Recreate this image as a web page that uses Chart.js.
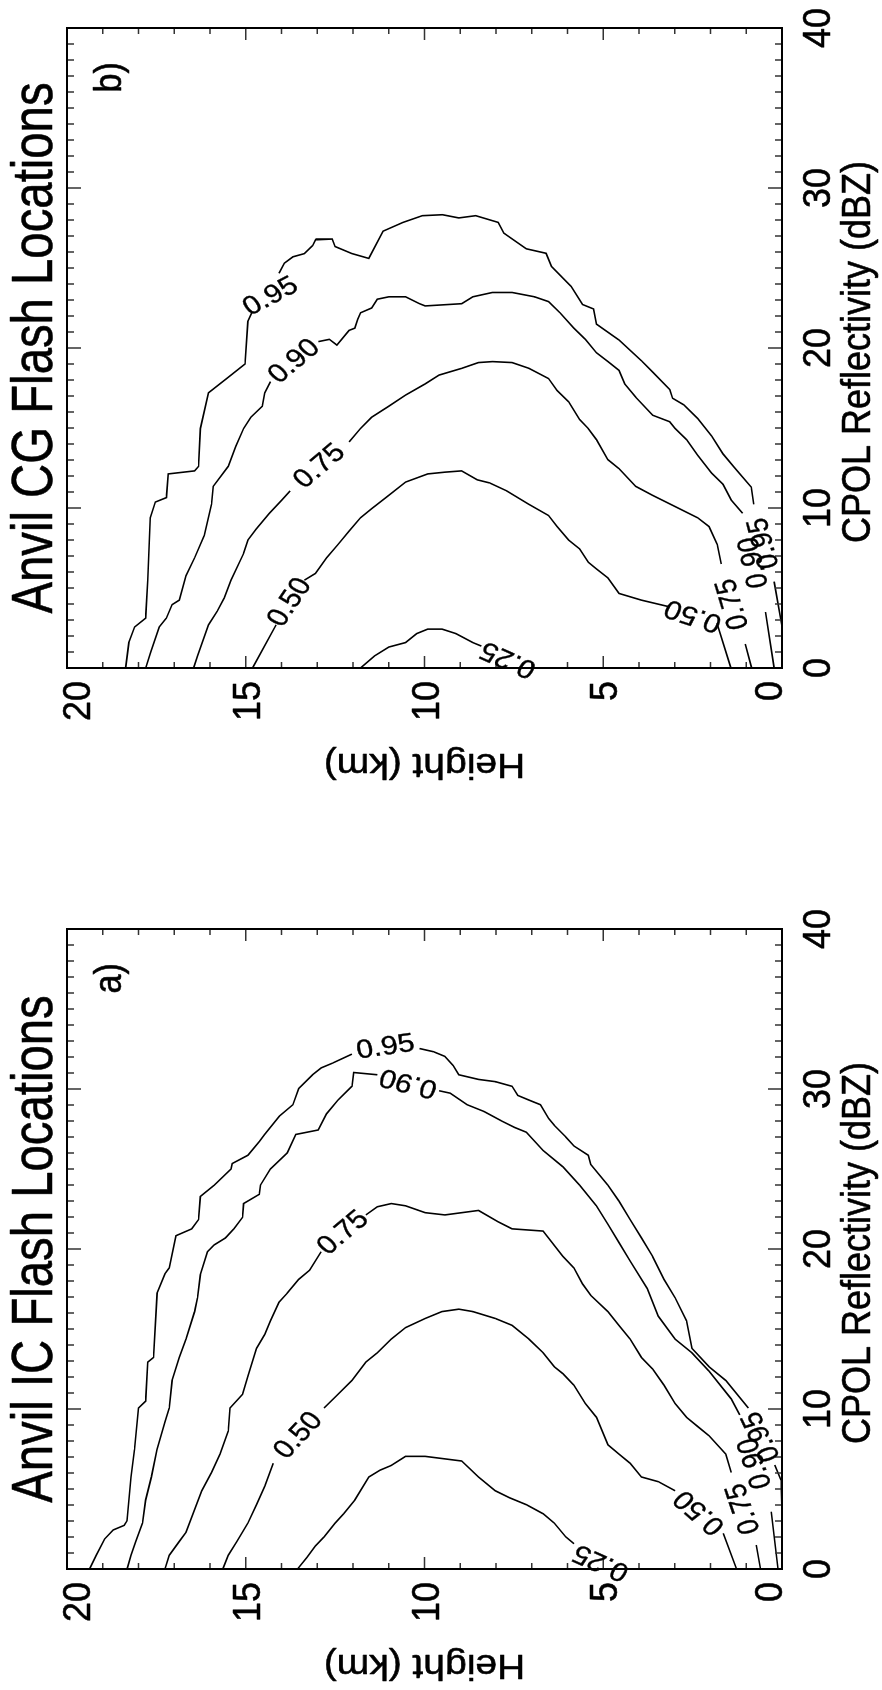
<!DOCTYPE html>
<html lang="en">
  <head>
    <meta charset="UTF-8" />
    <title>Anvil Flash Locations</title>
    <script src="https://cdn.jsdelivr.net/npm/chart.js"></script>
    <style>
      html,
      body {
        margin: 0;
        padding: 0;
        background: #fff;
      }
      body {
        width: 882px;
        height: 1690px;
        overflow: hidden;
        position: relative;
      }
      /* the figure is a landscape page turned a quarter turn */
      #page {
        position: absolute;
        left: 0;
        top: 0;
        width: 1690px;
        height: 882px;
        transform-origin: 0 0;
        transform: translateY(1690px) rotate(-90deg);
      }
      .panel {
        position: absolute;
        top: 0;
        width: 845px;
        height: 882px;
      }
    </style>
  </head>
  <body>
    <div id="page">
      <div class="panel" style="left: 0"><canvas id="panelA"></canvas></div>
      <div class="panel" style="left: 845px"><canvas id="panelB"></canvas></div>
    </div>

    <script>
      // axes
      const reflTicks = [0, 10, 20, 30, 40];
      const heightTicks = [0, 5, 10, 15, 20];
      const contourLevels = [0.25, 0.5, 0.75, 0.9, 0.95];

      // a) anvil IC flashes : reflectivity (dBZ) / height (km), null = label gap
      const icRefl25 = [0, 0.72, 1.44, 2.01, 2.87, 3.45, 4.31, 5.75, 6.18, 6.47, 7.04, 7.04, 6.75, 5.75, 4.89, 4.45, 4.02, 3.45, 2.87, 2.01, 1.58];
      const icHgt25 = [13.55, 13.29, 13.05, 12.81, 12.5, 12.26, 11.95, 11.56, 11.24, 10.93, 10.53, 9.98, 8.96, 8.49, 8.02, 7.62, 7.15, 6.68, 6.37, 6.05, 5.82];

      const icRefl50 = [0, 0.86, 1.72, 2.87, 4.02, 5.17, 6.61, null, 10.06, 10.92, 11.78, 12.93, 13.51, 14.37, 15.09, 15.66, 16.09, 16.24, 16.09, 15.66, 15.23, 14.37, 13.51, 12.64, 12.21, 11.49, 10.34, 9.48, 7.76, 7.18, 6.61, 5.75, 5.46, 4.89, null, 2.23, 0];
      const icHgt50 = [15.64, 15.49, 15.25, 14.94, 14.7, 14.47, 14.23, null, 12.81, 12.42, 12.03, 11.64, 11.32, 10.93, 10.53, 9.98, 9.51, 9.04, 8.65, 8.02, 7.55, 7.08, 6.68, 6.37, 6.13, 5.82, 5.5, 5.19, 4.87, 4.56, 4.25, 3.93, 3.46, 2.99, null, 1.64, 1.27];

      const icRefl75 = [0, 0.86, 1.72, 2.3, 3.74, 4.89, 6.03, 7.18, 8.62, 10.06, 10.92, 12.07, 13.79, 14.66, 15.52, 16.67, 17.24, 18.1, 18.68, 19.83, null, 22.13, 22.64, 22.84, 22.7, 22.27, 22.13, 22.41, 21.7, 21.26, 21.12, 19.54, 18.82, 17.82, 17.1, 16.09, 15.23, 14.37, 13.22, 12.5, 11.49, 10.34, 9.48, 8.91, 8.33, 7.18, 6.03, null, 1.5, 0];
      const icHgt75 = [17.26, 17.14, 16.86, 16.67, 16.43, 16.23, 15.96, 15.72, 15.49, 15.44, 15.09, 14.94, 14.7, 14.47, 14.31, 14.07, 13.84, 13.52, 13.21, 12.89, null, 11.64, 11.32, 10.93, 10.53, 9.98, 9.43, 8.49, 7.94, 7.55, 6.68, 6.13, 5.82, 5.58, 5.35, 4.87, 4.56, 4.25, 3.93, 3.62, 3.3, 2.99, 2.67, 2.36, 2.04, 1.57, 1.42, null, 0.72, 0.6];

      const icRefl90 = [0, 0.86, 1.72, 2.87, 4.31, 5.75, 7.47, 9.2, 10.06, 11.78, 13.22, 14.37, 16.09, 16.95, 18.39, 19.83, 20.26, 20.69, 21.26, 21.98, 22.84, 23.42, 23.99, 25.0, 26.01, 27.16, 27.44, 28.45, 29.31, 30.17, 31.03, 30.89, null, 29.89, 29.74, 29.02, 28.59, 28.02, 27.59, 27.3, 26.15, 25.14, 23.99, 22.7, 21.55, 20.4, 19.25, 17.53, 15.8, 14.37, 13.51, 12.36, 10.63, 9.63, null, 3.58, 0];
      const icHgt90 = [18.32, 18.21, 18.08, 17.89, 17.8, 17.64, 17.48, 17.26, 17.14, 17.06, 16.86, 16.67, 16.43, 16.35, 16.27, 16.07, 15.88, 15.57, 15.33, 15.09, 15.06, 14.62, 14.59, 14.31, 13.84, 13.6, 12.97, 12.74, 12.42, 12.03, 11.98, 11.32, null, 9.59, 9.28, 8.81, 8.33, 7.86, 7.47, 7.15, 6.68, 6.13, 5.66, 5.19, 4.87, 4.56, 4.25, 3.77, 3.46, 2.99, 2.52, 2.04, 1.42, 1.18, null, 0.3, 0.11];

      const icRefl95 = [0, 0.86, 1.87, 2.44, 2.73, 3.02, 5.75, 7.47, 10.06, 10.49, 12.93, 13.22, 17.24, 18.45, 18.82, 20.83, 21.26, 21.84, 23.28, 23.99, 25.0, 25.34, 25.86, 26.72, 27.16, 28.3, 29.02, 30.03, 30.89, 31.32, 31.61, 32.18, null, 32.53, 32.33, 32.04, 31.47, 30.89, 30.6, 30.46, 30.17, 29.6, 29.31, 29.02, 28.16, 27.73, 27.01, 26.44, 25.86, 25.29, 23.99, 22.99, 21.84, 20.69, 19.54, 18.1, 16.95, 15.52, 13.79, 12.64, 11.78, 10.06, null, 6.5, 5.56, 3.5];
      const icHgt95 = [19.37, 19.18, 18.95, 18.71, 18.4, 18.32, 18.21, 18.11, 18.0, 17.8, 17.74, 17.58, 17.48, 17.26, 17.14, 16.95, 16.51, 16.32, 16.27, 15.88, 15.41, 15.38, 14.94, 14.62, 14.47, 14.06, 13.68, 13.52, 13.13, 12.89, 12.58, 12.03, null, 10.14, 9.75, 9.43, 9.2, 9.04, 8.49, 8.02, 7.55, 7.39, 7.08, 6.76, 6.53, 6.37, 6.05, 5.82, 5.42, 5.35, 4.87, 4.56, 4.25, 3.93, 3.62, 3.3, 2.99, 2.67, 2.52, 2.04, 1.57, 0.94, null, 0.2, 0.03, 0];

      // b) anvil CG flashes
      const cgRefl25 = [0, 0.75, 1.31, 1.59, 2.15, 2.43, 2.43, 2.15, 1.59, 1.37];
      const cgHgt25 = [11.79, 11.4, 11.0, 10.53, 10.22, 9.91, 9.51, 9.12, 8.65, 8.41];

      const cgRefl50 = [0, 2.7, null, 5.49, 5.91, 6.89, 7.72, 8.56, 9.39, 9.95, 10.79, 11.62, 12.13, 12.24, 12.32, 11.76, 11.57, 11.07, 10.23, 9.53, 8.84, 8.0, 7.44, 6.61, 6.19, 5.63, 4.66, 4.24, 3.82, null, 2.79, 0];
      const cgHgt50 = [14.81, 14.15, null, 13.36, 13.05, 12.74, 12.42, 12.11, 11.79, 11.48, 11.0, 10.53, 9.91, 9.43, 8.96, 8.52, 8.18, 7.7, 7.08, 6.53, 6.29, 5.97, 5.66, 5.42, 5.19, 4.87, 4.56, 3.93, 3.14, null, 1.82, 1.43];

      const cgRefl75 = [0, 0.75, 2.7, 3.54, 4.38, 5.49, 7.16, 8.0, 8.7, 9.67, 10.5, 11.07, null, 14.13, 14.97, 15.67, 16.36, 17.06, 17.76, 18.31, 18.73, 19.09, 19.15, 19.09, 18.73, 18.09, 17.34, 16.64, 15.53, 14.97, 14.27, 13.02, 12.46, 11.35, 10.79, 10.09, 9.39, 8.84, 7.72, 6.5, null, 1.5, 0];
      const cgHgt75 = [16.46, 16.35, 16.04, 15.8, 15.6, 15.41, 15.06, 14.94, 14.7, 14.34, 13.99, 13.76, null, 12.11, 11.79, 11.48, 11.0, 10.53, 9.98, 9.59, 8.96, 8.49, 8.1, 7.55, 7.08, 6.53, 6.29, 5.97, 5.66, 5.42, 5.19, 4.87, 4.56, 4.09, 3.62, 2.99, 2.36, 2.04, 1.81, 1.7, null, 1.03, 0.85];

      const cgRefl90 = [0, 1.0, 2.56, 3.12, 3.96, 4.24, 5.77, 6.89, 8.28, 10.23, 11.35, 12.6, 13.85, 14.97, 15.67, 16.36, 17.2, 17.9, null, 20.4, 20.54, 20.18, 21.1, 21.24, 21.8, 22.2, 22.5, 23.05, 23.2, 23.2, 22.77, 22.63, 22.77, 23.2, 23.47, 23.47, 23.2, 22.9, 22.2, 21.24, 20.54, 19.7, 19.15, 18.6, 17.76, 16.92, 15.8, 15.39, 14.97, 14.27, 13.3, 12.18, 11.48, 10.5, 9.67, null, 3.5, 0];
      const cgHgt90 = [17.8, 17.66, 17.42, 17.22, 17.06, 16.86, 16.67, 16.43, 16.16, 15.96, 15.91, 15.49, 15.28, 15.06, 14.86, 14.54, 14.47, 14.31, null, 12.97, 12.66, 12.45, 12.11, 11.95, 11.87, 11.79, 11.48, 11.32, 11.0, 10.53, 10.14, 9.98, 8.96, 8.65, 8.1, 7.55, 6.92, 6.53, 6.21, 5.82, 5.5, 5.19, 4.87, 4.56, 4.4, 4.09, 3.62, 3.14, 2.99, 2.67, 2.36, 1.97, 1.65, 1.42, 1.1, null, 0.46, 0.22];

      const cgRefl95 = [0, 1.59, 2.56, 3.12, 5.49, 9.39, 10.37, 10.65, 12.13, 12.32, 12.6, 14.97, 17.2, 18.17, 19.0, 21.66, 22.2, null, 24.67, 25.3, 25.7, 25.9, 26.4, 26.76, 26.81, 26.34, 25.9, 25.6, 27.3, 27.85, 28.27, 28.33, 28.13, 28.27, 27.85, 27.18, 26.2, 25.92, 25.1, 23.85, 22.72, 22.44, 21.49, 20.5, 19.2, 18.5, 17.4, 16.86, 16.45, 15.6, 14.5, 13.38, 12.55, 12.13, 11.3, 10.23, null, 5.4, 2.6];
      const cgHgt95 = [18.36, 18.27, 18.11, 17.8, 17.74, 17.67, 17.53, 17.22, 17.17, 16.43, 16.32, 16.27, 16.04, 15.49, 15.02, 14.94, 14.83, null, 14.07, 13.92, 13.68, 13.36, 13.13, 13.05, 12.58, 12.5, 12.03, 11.56, 11.16, 10.6, 10.06, 9.5, 9.04, 8.57, 7.94, 7.78, 7.15, 6.6, 6.45, 5.9, 5.58, 5.27, 5.19, 4.56, 3.93, 3.62, 3.14, 3.06, 2.75, 2.36, 1.97, 1.65, 1.34, 1.18, 0.86, 0.79, null, 0.22, 0];

      // contour labels: level, reflectivity, height
      const icLabelLevel = [0.95, 0.9, 0.75, 0.5, 0.25, 0.5, 0.75, 0.9, 0.95];
      const icLabelRefl = [32.6, 30.4, 21.0, 8.33, 0.43, 3.56, 3.77, 6.6, 8.28];
      const icLabelHgt = [11.09, 10.45, 12.27, 13.52, 5.06, 2.3, 1.07, 0.74, 0.57];
      const cgLabelLevel = [0.95, 0.9, 0.75, 0.5, 0.25, 0.5, 0.75, 0.9, 0.95];
      const cgLabelRefl = [23.2, 19.15, 12.6, 4.1, 0.55, 3.3, 4.0, 6.6, 7.8];
      const cgLabelHgt = [14.3, 13.64, 12.93, 13.76, 7.65, 2.48, 1.37, 0.78, 0.5];

      // label orientation (degrees, clockwise on the landscape page)
      const icLabelAngle = [82, -76, 50, 43, -66, -49, -19, -18, -25];
      const cgLabelAngle = [62, 50, 50, 34, -66, -72, -17, -13, -15];

      const FONT = '"Liberation Sans", Arial, Helvetica, sans-serif';

      // text is a little narrower across the page than along it
      function putText(ctx, str, x, y, size, deg, align, baseline, squash) {
        const sq = squash || 0.9;
        const a = (deg * Math.PI) / 180;
        ctx.save();
        ctx.translate(x, y);
        ctx.scale(sq, 1);
        ctx.rotate(Math.atan2(sq * Math.sin(a), Math.cos(a)));
        ctx.font = size + "px " + FONT;
        ctx.fillStyle = "#000";
        ctx.strokeStyle = "#000";
        ctx.lineWidth = size > 32 ? 0.6 : 0.4;
        ctx.lineJoin = "round";
        ctx.textAlign = align;
        ctx.textBaseline = baseline;
        ctx.fillText(str, 0, 0);
        ctx.strokeText(str, 0, 0);
        ctx.restore();
      }

      const framePlugin = {
        id: "frame",
        afterDatasetsDraw(chart, args, opts) {
          const ctx = chart.ctx;
          const a = chart.chartArea;
          const xs = chart.scales.x;
          const ys = chart.scales.y;
          const cx = (a.left + a.right) / 2;
          const cy = (a.top + a.bottom) / 2;

          ctx.save();
          // minor + major ticks, inside, all four sides
          ctx.strokeStyle = "#333";
          ctx.lineWidth = 1.5;
          ctx.beginPath();
          for (let v = reflTicks[0]; v <= reflTicks[reflTicks.length - 1]; v++) {
            const px = xs.getPixelForValue(v);
            const len = reflTicks.includes(v) ? 14 : 7;
            ctx.moveTo(px, a.bottom);
            ctx.lineTo(px, a.bottom - len);
            ctx.moveTo(px, a.top);
            ctx.lineTo(px, a.top + len);
          }
          for (let v = heightTicks[0]; v <= heightTicks[heightTicks.length - 1]; v++) {
            const py = ys.getPixelForValue(v);
            const len = heightTicks.includes(v) ? 12 : 6;
            ctx.moveTo(a.left, py);
            ctx.lineTo(a.left + len, py);
            ctx.moveTo(a.right, py);
            ctx.lineTo(a.right - len, py);
          }
          ctx.stroke();

          ctx.strokeStyle = "#000";
          ctx.lineWidth = 2;
          ctx.strokeRect(a.left, a.top, a.right - a.left, a.bottom - a.top);
          ctx.restore();

          // tick labels
          reflTicks.forEach((v) => {
            putText(ctx, String(v), xs.getPixelForValue(v), a.bottom + 48, 39, 0, "center", "alphabetic", 0.92);
          });
          heightTicks.forEach((v, i) => {
            let base = ys.getPixelForValue(v) + 14;
            if (i === 0) base = a.bottom;
            if (i === heightTicks.length - 1) base = a.top + 23;
            putText(ctx, String(v), a.left - 13, base, 39, 0, "right", "alphabetic", 0.92);
          });

          // axis titles, panel title and tag
          putText(ctx, "CPOL Reflectivity (dBZ)", cx - 4, a.bottom + 88, 40, 0, "center", "alphabetic", 0.9);
          putText(ctx, "Height (km)", a.left - 86, cy, 39, -90, "center", "alphabetic", 0.9);
          putText(ctx, opts.title, cx, a.top - 15, 57, 0, "center", "alphabetic", 0.83);
          putText(ctx, opts.tag, a.right - 34, a.top + 54, 38, 0, "right", "alphabetic", 0.9);

          // contour labels
          opts.labelLevel.forEach((lv, i) => {
            putText(
              ctx,
              lv.toFixed(2),
              xs.getPixelForValue(opts.labelRefl[i]),
              ys.getPixelForValue(opts.labelHgt[i]),
              30,
              opts.labelAngle[i],
              "center",
              "middle",
              0.88
            );
          });
        },
      };

      function toPoints(refl, hgt) {
        return refl.map((r, i) => (r === null ? { x: null, y: null } : { x: r, y: hgt[i] }));
      }

      function makePanel(id, contours, pad, frameOpts) {
        new Chart(document.getElementById(id), {
          type: "scatter",
          data: {
            datasets: contours.map((c, i) => ({
              label: contourLevels[i].toFixed(2),
              data: toPoints(c[0], c[1]),
              showLine: true,
              spanGaps: false,
              borderColor: "#000",
              borderWidth: 1.6,
              pointRadius: 0,
              tension: 0,
            })),
          },
          options: {
            responsive: true,
            maintainAspectRatio: false,
            animation: false,
            events: [],
            layout: { padding: pad },
            scales: {
              x: { type: "linear", min: 0, max: 40, display: false },
              y: { type: "linear", min: 0, max: 20, display: false },
            },
            plugins: {
              legend: { display: false },
              tooltip: { enabled: false },
              frame: frameOpts,
            },
          },
          plugins: [framePlugin],
        });
      }

      makePanel(
        "panelA",
        [
          [icRefl25, icHgt25],
          [icRefl50, icHgt50],
          [icRefl75, icHgt75],
          [icRefl90, icHgt90],
          [icRefl95, icHgt95],
        ],
        { left: 121, right: 84, top: 67, bottom: 100 },
        {
          title: "Anvil IC Flash Locations",
          tag: "a)",
          labelLevel: icLabelLevel,
          labelRefl: icLabelRefl,
          labelHgt: icLabelHgt,
          labelAngle: icLabelAngle,
        }
      );

      makePanel(
        "panelB",
        [
          [cgRefl25, cgHgt25],
          [cgRefl50, cgHgt50],
          [cgRefl75, cgHgt75],
          [cgRefl90, cgHgt90],
          [cgRefl95, cgHgt95],
        ],
        { left: 177, right: 28, top: 67, bottom: 100 },
        {
          title: "Anvil CG Flash Locations",
          tag: "b)",
          labelLevel: cgLabelLevel,
          labelRefl: cgLabelRefl,
          labelHgt: cgLabelHgt,
          labelAngle: cgLabelAngle,
        }
      );
    </script>
  </body>
</html>
